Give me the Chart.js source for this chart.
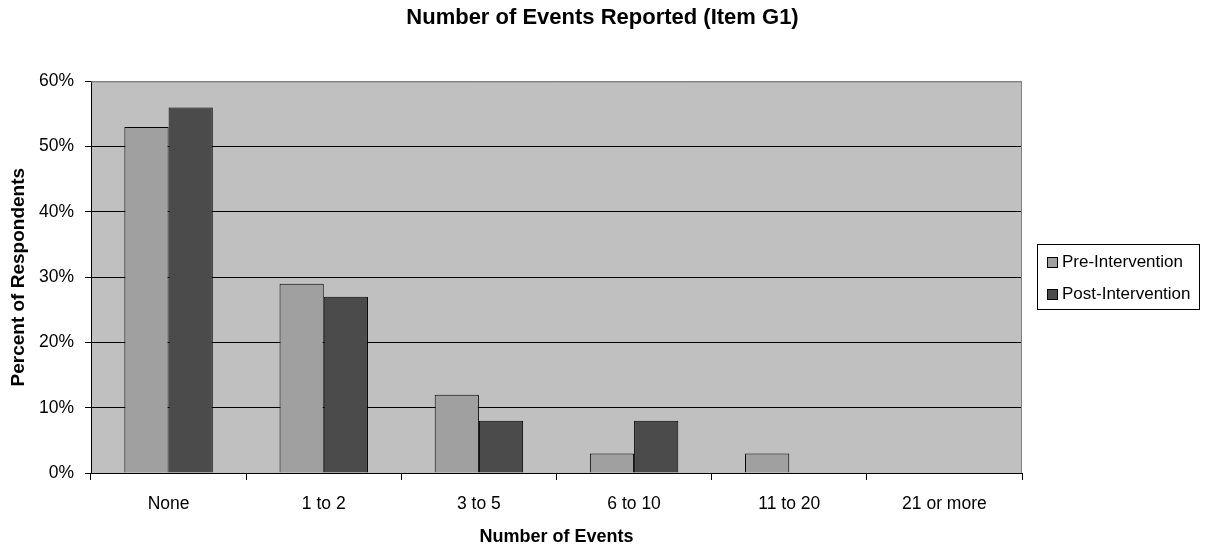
<!DOCTYPE html>
<html lang="en">
<head>
    <meta charset="UTF-8" />
    <title>Number of Events Reported (Item G1)</title>
    <script src="https://cdn.jsdelivr.net/npm/chart.js"></script>
    <style>
        html, body { margin: 0; padding: 0; background: #fff; }
        #wrap { width: 1205px; height: 548px; position: relative; }
    </style>
</head>
<body>
    <div id="wrap">
        <canvas id="eventsChart" width="1205" height="548"></canvas>
    </div>

    <script>
        const categories = ['None', '1 to 2', '3 to 5', '6 to 10', '11 to 20', '21 or more'];
        const preValues = [53, 29, 12, 3, 3, 0];
        const postValues = [56, 27, 8, 8, 0, 0];
        const seriesNames = ['Pre-Intervention', 'Post-Intervention'];
        const yTicks = [0, 10, 20, 30, 40, 50, 60];

        const FONT = "'Liberation Sans', Arial, sans-serif";

        // grey plot area + white page behind it
        const plotBackground = {
            id: 'plotBackground',
            beforeDraw(chart) {
                const { ctx, chartArea: a } = chart;
                ctx.save();
                ctx.fillStyle = '#ffffff';
                ctx.fillRect(0, 0, chart.width, chart.height);
                ctx.fillStyle = '#c0c0c0';
                ctx.fillRect(a.left, a.top, a.right - a.left, a.bottom - a.top);
                ctx.restore();
            },
            beforeDatasetsDraw(chart) {
                const { ctx, chartArea: a } = chart;
                ctx.save();
                ctx.strokeStyle = '#808080';
                ctx.lineWidth = 1;
                ctx.beginPath();
                ctx.moveTo(a.left, a.top + 0.5);
                ctx.lineTo(a.right - 0.5, a.top + 0.5);
                ctx.lineTo(a.right - 0.5, a.bottom);
                ctx.stroke();
                ctx.restore();
            }
        };

        // boxed legend on the right, like the old Excel style
        const boxLegend = {
            id: 'boxLegend',
            afterDraw(chart) {
                const { ctx } = chart;
                const x = 1037, y = 244, w = 162, h = 65;
                ctx.save();
                ctx.strokeStyle = '#000';
                ctx.lineWidth = 1;
                ctx.strokeRect(x + 0.5, y + 0.5, w, h);
                ctx.font = '17px ' + FONT;
                ctx.textBaseline = 'middle';
                chart.data.datasets.forEach((ds, i) => {
                    const cy = y + 18 + i * 32;
                    ctx.fillStyle = ds.backgroundColor;
                    ctx.fillRect(x + 10, cy - 5, 11, 11);
                    ctx.strokeRect(x + 10.5, cy - 4.5, 10, 10);
                    ctx.fillStyle = '#000';
                    ctx.fillText(ds.label, x + 25, cy);
                });
                ctx.restore();
            }
        };

        const ctx = document.getElementById('eventsChart').getContext('2d');
        new Chart(ctx, {
            type: 'bar',
            data: {
                labels: categories,
                datasets: [{
                    label: seriesNames[0],
                    data: preValues,
                    backgroundColor: '#a0a0a0',
                    borderColor: '#000',
                    borderWidth: 1,
                    categoryPercentage: 0.57,
                    barPercentage: 1.0
                }, {
                    label: seriesNames[1],
                    data: postValues,
                    backgroundColor: '#4b4b4b',
                    borderColor: '#000',
                    borderWidth: 1,
                    categoryPercentage: 0.57,
                    barPercentage: 1.0
                }]
            },
            options: {
                responsive: false,
                animation: false,
                layout: { padding: 0 },
                plugins: {
                    legend: { display: false },
                    tooltip: { enabled: false },
                    title: {
                        display: true,
                        text: 'Number of Events Reported (Item G1)',
                        color: '#000',
                        font: { family: FONT, size: 22, weight: 'bold' },
                        padding: { top: 5, bottom: 50 }
                    }
                },
                scales: {
                    x: {
                        offset: true,
                        grid: {
                            offset: true,
                            drawOnChartArea: false,
                            drawTicks: true,
                            tickLength: 7,
                            tickColor: '#000'
                        },
                        border: { color: '#000', width: 1 },
                        ticks: {
                            color: '#000',
                            padding: 14,
                            maxRotation: 0,
                            font: { family: FONT, size: 17.5 }
                        },
                        title: {
                            display: true,
                            text: 'Number of Events',
                            color: '#000',
                            font: { family: FONT, size: 18, weight: 'bold' },
                            padding: { top: 0, bottom: 0 }
                        },
                        afterFit(scale) { scale.height = 75; }
                    },
                    y: {
                        min: 0,
                        max: 60,
                        afterBuildTicks(scale) {
                            scale.ticks = yTicks.map(v => ({ value: v }));
                        },
                        grid: {
                            color: c => (c.tick && c.tick.value === 60) ? '#808080' : '#000',
                            tickColor: '#000',
                            tickLength: 6,
                            lineWidth: 1
                        },
                        border: { color: '#000', width: 1 },
                        ticks: {
                            color: '#000',
                            padding: 11,
                            font: { family: FONT, size: 17.5 },
                            callback: v => v + '%'
                        },
                        title: {
                            display: true,
                            text: 'Percent of Respondents',
                            color: '#000',
                            font: { family: FONT, size: 19, weight: 'bold' },
                            padding: { top: 7, bottom: 7 }
                        },
                        afterFit(scale) { scale.width = 91; }
                    },
                    // empty right-hand strip that leaves room for the legend box
                    side: {
                        position: 'right',
                        display: true,
                        grid: { display: false, drawTicks: false },
                        border: { display: false },
                        ticks: { display: false },
                        afterFit(scale) { scale.width = 183; }
                    }
                }
            },
            plugins: [plotBackground, boxLegend]
        });
    </script>
</body>
</html>
